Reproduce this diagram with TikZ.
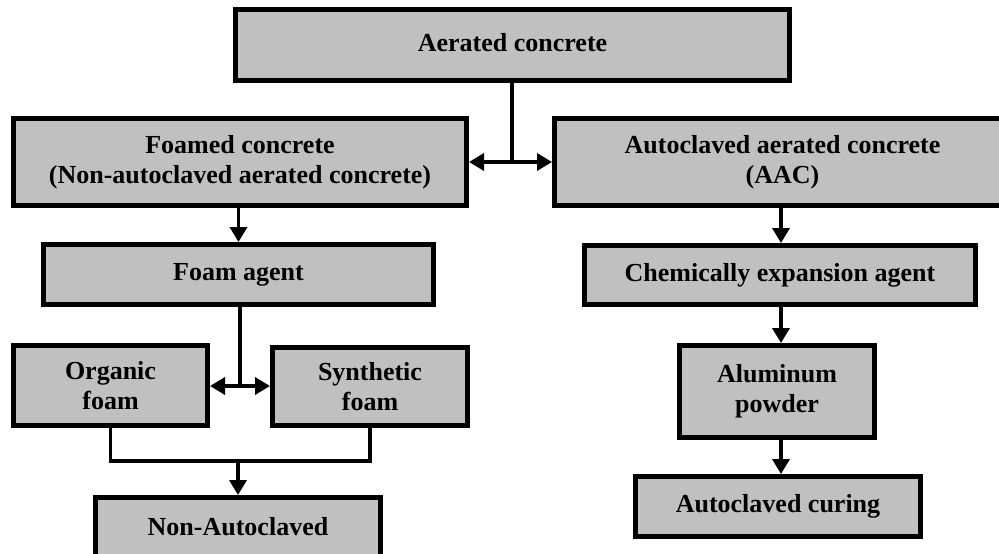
\documentclass[tikz,border=0pt]{standalone}
\usepackage{fontspec}
\setmainfont{Liberation Serif}
\usetikzlibrary{arrows.meta}
\definecolor{boxgray}{RGB}{192,192,192}
\tikzset{
  box/.style={draw=black, fill=boxgray, line width=5pt, inner sep=0pt, align=center,
    font=\fontsize{26}{30}\selectfont\bfseries},
  conn/.style={line width=3.5pt, draw=black},
  arr/.style={conn, -{Triangle[length=15pt,width=17pt]}},
  darr/.style={conn, {Triangle[length=15pt,width=17pt]}-{Triangle[length=15pt,width=17pt]}}
}
\begin{document}
\begin{tikzpicture}[x=1pt,y=-1pt]
\clip (0,0) rectangle (999,554);
\fill[white] (0,0) rectangle (999,554);
\node[box, minimum width=554pt, minimum height=71pt] (aer) at (512.5,45) {\raisebox{6pt}{Aerated concrete}};
\node[box, minimum width=453pt, minimum height=87pt] (foam) at (240,162) {Foamed concrete\\(Non-autoclaved aerated concrete)};
\node[box, minimum width=456pt, minimum height=87pt] (aac) at (782.5,162) {Autoclaved aerated concrete\\(AAC)};
\node[box, minimum width=390pt, minimum height=60pt] (fa) at (238.5,274.5) {Foam agent};
\node[box, minimum width=391pt, minimum height=59pt] (chem) at (780,275) {Chemically expansion agent};
\node[box, minimum width=194pt, minimum height=80pt] (org) at (110.5,385.5) {Organic\\foam};
\node[box, minimum width=195pt, minimum height=78pt] (syn) at (370,386.5) {Synthetic\\foam};
\node[box, minimum width=195pt, minimum height=92pt] (alu) at (777,391.5) {Aluminum\\powder};
\node[box, minimum width=285pt, minimum height=60pt] (cur) at (778,506.5) {Autoclaved curing};
\node[box, minimum width=285pt, minimum height=60pt] (non) at (238,527.5) {\raisebox{3pt}{Non-Autoclaved}};
\coordinate (j1) at (512,162);
\coordinate (j2) at (240,386);
\coordinate (j3) at (238,461);
\draw[conn] (aer.south -| j1) -- (j1);
\draw[darr] (foam.east) -- (aac.west);
\draw[arr] (foam.south -| fa.north) -- (fa.north);
\draw[conn] (fa.south -| j2) -- (j2);
\draw[darr] (j2 -| org.east) -- (j2 -| syn.west);
\draw[conn] (org.south) |- (j3) -| (syn.south);
\draw[arr] (j3) -- (j3 |- non.north);
\draw[arr] (aac.south -| 781,0) -- (chem.north -| 781,0);
\draw[arr] (chem.south -| 781,0) -- (alu.north -| 781,0);
\draw[arr] (alu.south -| 781,0) -- (cur.north -| 781,0);
\end{tikzpicture}
\end{document}
